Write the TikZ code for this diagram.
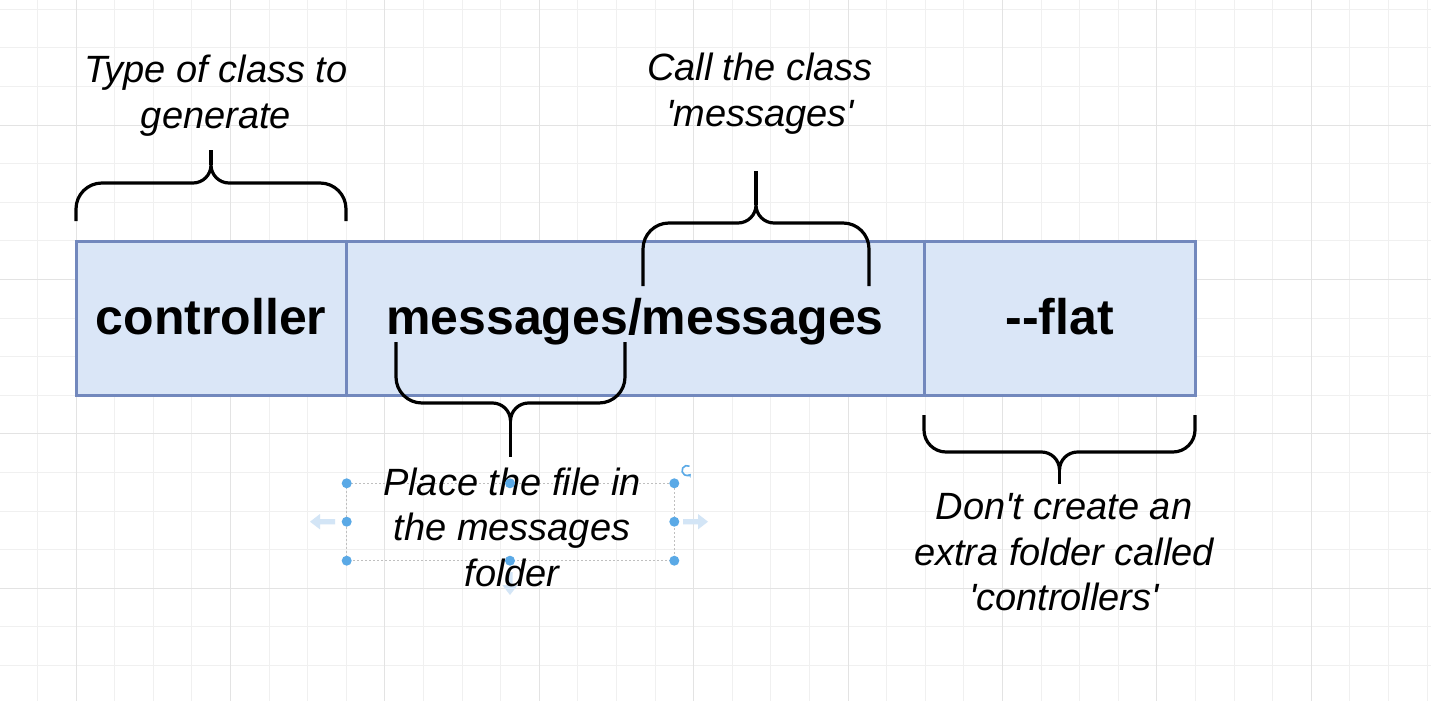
\documentclass[tikz,border=0pt]{standalone}
\usepackage{fontspec}
\newfontfamily\lsans{Liberation Sans}
\usetikzlibrary{arrows.meta}
\definecolor{gridminor}{HTML}{F0F0F0}
\definecolor{gridmajor}{HTML}{E3E3E3}
\definecolor{cellfill}{HTML}{DAE6F7}
\definecolor{celldraw}{HTML}{7288BD}
\definecolor{handle}{HTML}{5AA9E6}
\definecolor{ghost}{HTML}{D3E5F6}
\newcommand\q{\textquotesingle}
\begin{document}
\begin{tikzpicture}[x=1pt,y=-1pt,
  cell/.style={draw=celldraw, fill=cellfill, line width=3pt, minimum height=154pt, inner sep=0pt,
    text height=38pt, text depth=6pt, font=\lsans\bfseries\fontsize{50}{60}\selectfont},
  note/.style={anchor=north, inner sep=0pt, align=center, font=\lsans\itshape\fontsize{38}{45.6}\selectfont},
  bracepath/.style={line width=3.2pt, line cap=butt, line join=round},
  handledot/.style={circle, fill=handle, inner sep=0pt, minimum size=10pt},
  selbox/.style={draw=gray!50, line width=0.8pt, dash pattern=on 2pt off 2pt},
]
\fill[white] (0,0) rectangle (1431,701);
\useasboundingbox (0,0) rectangle (1431,701);
% grid
\foreach \k in {-1,...,35} \draw[gridminor, line width=1pt] ({76+38.6*\k},0) -- ({76+38.6*\k},701);
\foreach \k in {-3,...,14} \draw[gridminor, line width=1pt] (0,{125+38.6*\k}) -- (1431,{125+38.6*\k});
\foreach \k in {0,4,...,32} \draw[gridmajor, line width=1pt] ({76+38.6*\k},0) -- ({76+38.6*\k},701);
\foreach \k in {0,4,8,12} \draw[gridmajor, line width=1pt] (0,{125+38.6*\k}) -- (1431,{125+38.6*\k});

% cells
\node[cell, minimum width=270pt] (c1) at (211,318) {controller};
\node[cell, minimum width=578pt] (c2) at (635,318) {messages/messages};
\node[cell, minimum width=271pt] (c3) at (1059.5,318) {-\kern0pt-flat};

% braces
\draw[bracepath] (76,221) -- (76,209) .. controls (76,194.6) and (87.6,183) .. (102,183) -- (193,183)
  .. controls (202.9,183) and (211,174.9) .. (211,165) .. controls (211,174.9) and (219.1,183) .. (229,183)
  -- (320,183) .. controls (334.4,183) and (346,194.6) .. (346,209) -- (346,221);
\draw[bracepath] (211,165) -- (211,150);

\draw[bracepath] (643,286) -- (643,249) .. controls (643,234.6) and (654.6,223) .. (669,223) -- (738,223)
  .. controls (747.9,223) and (756,214.9) .. (756,205) .. controls (756,214.9) and (764.1,223) .. (774,223)
  -- (843,223) .. controls (857.4,223) and (869,234.6) .. (869,249) -- (869,286);
\draw[bracepath] (756,205) -- (756,171);

\draw[bracepath] (396,342) -- (396,377) .. controls (396,391.4) and (407.6,403) .. (422,403) -- (492.5,403)
  .. controls (502.4,403) and (510.5,411.1) .. (510.5,421) .. controls (510.5,411.1) and (518.6,403) .. (528.5,403)
  -- (599,403) .. controls (613.4,403) and (625,391.4) .. (625,377) -- (625,342);
\draw[bracepath] (510.5,421) -- (510.5,457);

\draw[bracepath] (924,415) -- (924,430) .. controls (924,442.1) and (933.9,452) .. (946,452) -- (1041.5,452)
  .. controls (1051.4,452) and (1059.5,460.1) .. (1059.5,470) .. controls (1059.5,460.1) and (1067.6,452) .. (1077.5,452)
  -- (1173,452) .. controls (1185.1,452) and (1195,442.1) .. (1195,430) -- (1195,415);
\draw[bracepath] (1059.5,470) -- (1059.5,484);

% selection decoration
\draw[selbox] (346.7,483.3) rectangle (674.3,560.7);
\fill[ghost] (310,521.7) -- (320,514) -- (320,519) -- (335,519) -- (335,524.4) -- (320,524.4) -- (320,529.4) -- cycle;
\fill[ghost] (708,521.7) -- (698,514) -- (698,519) -- (683,519) -- (683,524.4) -- (698,524.4) -- (698,529.4) -- cycle;
\fill[ghost] (510,595) -- (502.3,585) -- (507.3,585) -- (507.3,572) -- (512.7,572) -- (512.7,585) -- (517.7,585) -- cycle;
\draw[handle, line width=1.6pt, -{Stealth[length=3.5pt,width=4.5pt]}] (689.5,466.2) arc[start angle=-60, end angle=-320, radius=5];

% labels
\node[note] (lblType) at (216,50.4) {\strut Type of class to\\generate};
\node[note] (lblCall) at (760,48.6) {\strut Call the class\\\q messages\q};
\node[note] (lblPlace) at (512,463.1) {\strut Place the file in\\the messages\\folder};
\node[note] (lblDont) at (1064,487.4) {\strut Don\q t create an\\extra folder called\\\q controllers\q};

% handles
\foreach \p/\n in {{346.7,483.3}/h1,{510,483.3}/h2,{674.3,483.3}/h3,{346.7,521.7}/h4,{674.3,521.7}/h5,{346.7,560.7}/h6,{510,560.7}/h7,{674.3,560.7}/h8}
  \node[handledot] (\n) at (\p) {};
\end{tikzpicture}
\end{document}
